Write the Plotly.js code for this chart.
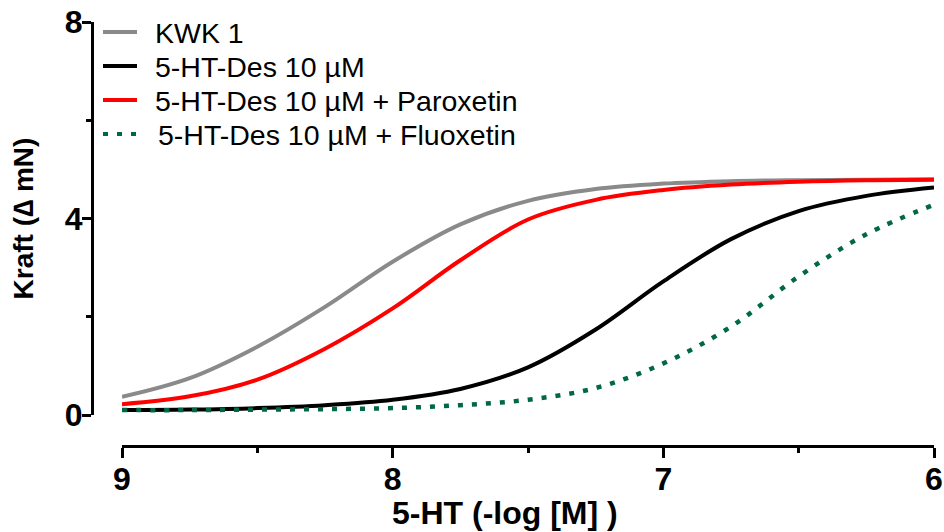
<!DOCTYPE html>
<html>
<head>
<meta charset="utf-8">
<script src="https://cdn.plot.ly/plotly-3.0.1.min.js"></script>
<style>html,body{margin:0;padding:0;background:#fff;}#chart{width:944px;height:532px;}</style>
</head>
<body>
<div id="chart"></div>
<script>
// -log[M] concentration positions
const logConc = [9, 8.75, 8.5, 8.25, 8, 7.75, 7.5, 7.25, 7, 6.75, 6.5, 6.25, 6];
// Kraft (Δ mN)
const kwk1       = [0.37, 0.75, 1.39, 2.20, 3.12, 3.88, 4.36, 4.60, 4.71, 4.76, 4.78, 4.79, 4.80];
const htDes      = [0.10, 0.11, 0.14, 0.20, 0.31, 0.53, 0.97, 1.74, 2.72, 3.58, 4.15, 4.46, 4.63];
const paroxetin  = [0.22, 0.38, 0.72, 1.35, 2.17, 3.15, 3.98, 4.38, 4.58, 4.69, 4.75, 4.78, 4.79];
const fluoxetin  = [0.10, 0.10, 0.11, 0.12, 0.14, 0.20, 0.31, 0.55, 1.05, 1.80, 2.82, 3.68, 4.28];

const seriesNames  = ['KWK 1', '5-HT-Des 10 µM', '5-HT-Des 10 µM + Paroxetin', '5-HT-Des 10 µM + Fluoxetin'];
const seriesValues = [kwk1, htDes, paroxetin, fluoxetin];
const seriesColors = ['#8a8a8a', '#000000', '#ff0000', '#006847'];
const seriesDash   = ['solid', 'solid', 'solid', '5px,9px'];

const xTickVals = [9, 8, 7, 6];
const xTickText = ['9', '8', '7', '6'];
const yTickVals = [0, 4, 8];
const yTickText = ['0', '4', '8'];
const xTitle = '5-HT (-log [M] )';
const yTitle = 'Kraft (∆ mN)';

const W = 944, H = 532;
const M = {l: 92, r: 10, t: 22, b: 86};
const PW = W - M.l - M.r, PH = H - M.t - M.b;
const px = x => (x - M.l) / PW;
const py = y => (H - M.b - y) / PH;
const FONT = 'Liberation Sans, Arial, sans-serif';

const drawOrder = [0, 2, 1, 3];
const traces = drawOrder.map(i => ({
  x: logConc, y: seriesValues[i], type: 'scatter', mode: 'lines', name: seriesNames[i],
  line: {color: seriesColors[i], width: i === 3 ? 4.5 : 4, dash: seriesDash[i], shape: 'spline', smoothing: 1},
  hoverinfo: 'skip', showlegend: false
}));

// manual legend (to match row spacing)
const legendRows = [32, 66, 100, 134];
const shapes = [], annotations = [];
seriesNames.forEach((n, i) => {
  shapes.push({type: 'line', xref: 'paper', yref: 'paper', x0: px(103), x1: px(137), y0: py(legendRows[i]), y1: py(legendRows[i]),
    line: {color: seriesColors[i], width: 4, dash: seriesDash[i]}});
  annotations.push({xref: 'paper', yref: 'paper', x: px(i === 3 ? 156 : 153), y: py(legendRows[i] + 1), xanchor: 'left', yanchor: 'middle',
    text: n, showarrow: false, font: {family: FONT, size: 28.5, color: '#000'}});
});
// x-axis title (placed like the reference, slightly left of the axis centre)
annotations.push({xref: 'paper', yref: 'paper', x: px(505), y: py(513), xanchor: 'center', yanchor: 'middle',
  text: xTitle, showarrow: false, font: {family: FONT, size: 32, weight: 'bold', color: '#000'}});

const layout = {
  width: W, height: H,
  margin: M,
  paper_bgcolor: '#fff', plot_bgcolor: '#fff',
  showlegend: false,
  font: {family: FONT, color: '#000'},
  xaxis: {
    range: [9, 6], domain: [px(122), 1], anchor: 'free', position: 0,
    showgrid: false, zeroline: false, showline: true, linecolor: '#000', linewidth: 3,
    ticks: 'outside', ticklen: 10, tickwidth: 3, tickcolor: '#000',
    tickvals: xTickVals, ticktext: xTickText, ticklabelstandoff: -6,
    minor: {tickvals: [8.5, 7.5, 6.5], ticks: 'outside', ticklen: 5, tickwidth: 3, tickcolor: '#000', showgrid: false},
    tickfont: {size: 32, weight: 'bold', color: '#000'}
  },
  yaxis: {
    range: [0, 8], domain: [py(415), 1], anchor: 'free', position: 0,
    showgrid: false, zeroline: false, showline: true, linecolor: '#000', linewidth: 3,
    ticks: 'outside', ticklen: 9, tickwidth: 3, tickcolor: '#000',
    tickvals: yTickVals, ticktext: yTickText, ticklabelstandoff: -7,
    minor: {tickvals: [2, 6], ticks: 'outside', ticklen: 5, tickwidth: 3, tickcolor: '#000', showgrid: false},
    tickfont: {size: 32, weight: 'bold', color: '#000'},
    title: {text: yTitle, font: {size: 28, weight: 'bold', color: '#000'}, standoff: 22}
  },
  shapes: shapes,
  annotations: annotations
};

Plotly.newPlot('chart', traces, layout, {displayModeBar: false, staticPlot: true});
</script>
</body>
</html>
